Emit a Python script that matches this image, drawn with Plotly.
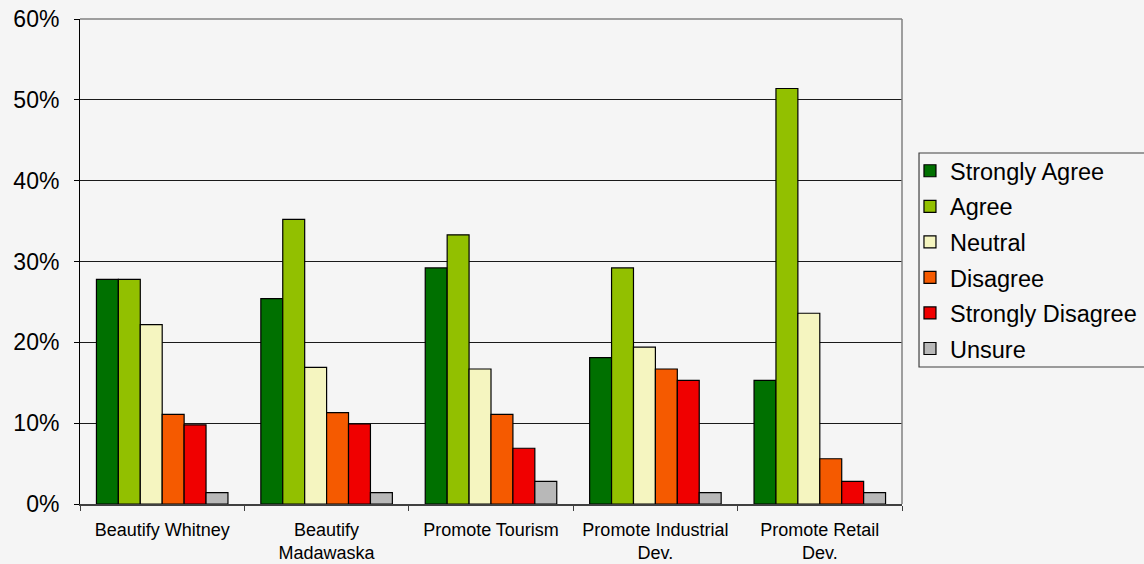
import plotly.graph_objects as go

categories = ["Beautify Whitney", "Beautify<br>Madawaska", "Promote Tourism",
              "Promote Industrial<br>Dev.", "Promote Retail<br>Dev."]

strongly_agree = [0.278, 0.254, 0.292, 0.181, 0.153]
agree = [0.278, 0.352, 0.333, 0.292, 0.514]
neutral = [0.222, 0.169, 0.167, 0.194, 0.236]
disagree = [0.111, 0.113, 0.111, 0.167, 0.056]
strongly_disagree = [0.098, 0.099, 0.069, 0.153, 0.028]
unsure = [0.014, 0.014, 0.028, 0.014, 0.014]

series_names = ["Strongly Agree", "Agree", "Neutral", "Disagree", "Strongly Disagree", "Unsure"]
series_values = [strongly_agree, agree, neutral, disagree, strongly_disagree, unsure]
series_colors = ["#007000", "#92C000", "#F5F5C0", "#F55A00", "#F00000", "#B8B8B8"]

fig = go.Figure()
for name, vals, col in zip(series_names, series_values, series_colors):
    fig.add_trace(go.Bar(
        x=categories, y=vals, name=name, legendgroup=name,
        marker=dict(color=col, line=dict(color="#000000", width=1.2)),
    ))

fig.update_layout(
    width=1144, height=564,
    margin=dict(l=80, r=242, t=19, b=60, autoexpand=False),
    paper_bgcolor="#F5F5F5", plot_bgcolor="#F5F5F5",
    font=dict(family="Liberation Sans, Arial, sans-serif", color="#000000"),
    barmode="group", bargap=0.2, bargroupgap=0,
    showlegend=True,
    legend=dict(
        x=1.0097, y=0.732, xanchor="left", yanchor="top",
        borderwidth=0, bgcolor="rgba(0,0,0,0)",
        font=dict(size=23.5), tracegroupgap=2, traceorder="grouped",
    ),
    xaxis=dict(
        showline=True, linecolor="#404040", linewidth=2,
        ticks="outside", tickson="boundaries", ticklen=5, tickcolor="#404040",
        tickfont=dict(size=18), showgrid=False, ticklabelstandoff=8,
        automargin=False,
    ),
    yaxis=dict(
        range=[0, 0.6], dtick=0.1, tickformat=".0%",
        showline=True, linecolor="#000000", linewidth=1,
        ticks="outside", ticklen=5, tickcolor="#000000",
        gridcolor="#1a1a1a", gridwidth=1,
        tickfont=dict(size=23), zeroline=False, ticklabelstandoff=10,
        automargin=False,
    ),
    shapes=[
        dict(type="line", xref="paper", yref="paper", x0=0, x1=1, y0=1, y1=1,
             line=dict(color="#808080", width=1.5)),
        dict(type="line", xref="paper", yref="paper", x0=1, x1=1, y0=0, y1=1,
             line=dict(color="#808080", width=1.5)),
        dict(type="rect", xref="paper", yref="paper", x0=1.0207, x1=1.31,
             y0=0.2825, y1=0.7237, line=dict(color="#404040", width=1.2),
             fillcolor="rgba(0,0,0,0)", layer="above"),
    ],
)

fig.write_html("out.html")
